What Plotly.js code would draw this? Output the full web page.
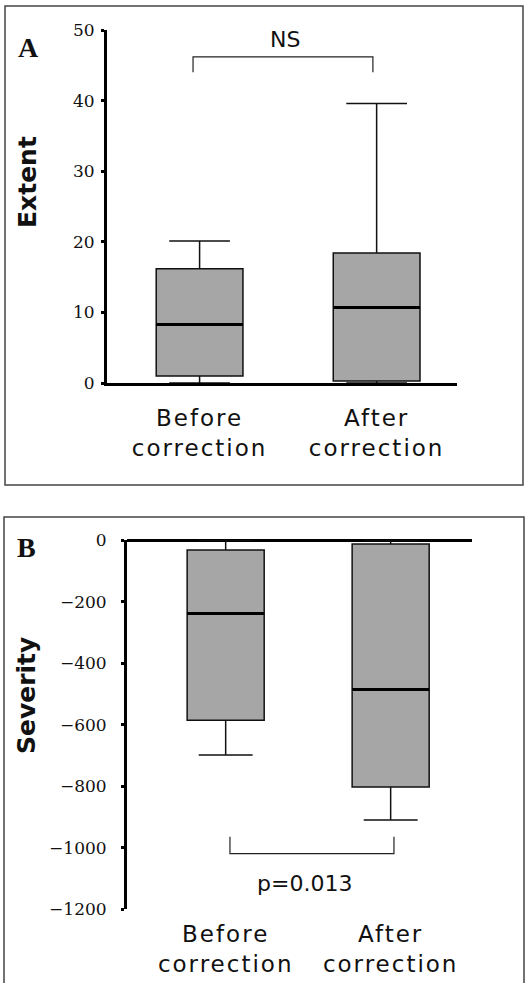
<!DOCTYPE html>
<html>
<head>
<meta charset="utf-8">
<script src="https://cdn.plot.ly/plotly-3.0.1.min.js"></script>
<style>
  html, body { margin: 0; padding: 0; background: #fff; }
  #chart { width: 525px; height: 983px; }
  .xtick text, .x2tick text { letter-spacing: 2px; }
</style>
</head>
<body>
<div id="chart"></div>
<script>
// ---- data ----
const categories = ['Before<br>correction', 'After<br>correction'];

// Panel A: Extent
const extentLower  = [0, 0];
const extentQ1     = [1.0, 0.3];
const extentMedian = [8.3, 10.7];
const extentQ3     = [16.2, 18.4];
const extentUpper  = [20.1, 39.6];
const extentTicks  = [0, 10, 20, 30, 40, 50];

// Panel B: Severity
const severityLower  = [-698, -910];
const severityQ1     = [-585, -802];
const severityMedian = [-238, -485];
const severityQ3     = [-32, -12];
const severityUpper  = [0, 0];
const severityTicks  = [0, -200, -400, -600, -800, -1000, -1200];

// ---- styling ----
const W = 525, H = 983;
const boxFill = '#a6a6a6';
const tickFont = {family: 'DejaVu Serif', size: 17, color: '#111'};
const catFont = {family: 'DejaVu Sans', size: 23, color: '#111'};
const titleFont = {family: 'DejaVu Sans', size: 25, color: '#111', weight: 'bold'};

function boxTrace(xa, ya, lo, q1, med, q3, hi, width) {
  return {
    type: 'box', xaxis: xa, yaxis: ya, x: categories,
    lowerfence: lo, q1: q1, median: med, q3: q3, upperfence: hi,
    width: width, whiskerwidth: 0.7,
    fillcolor: boxFill, line: {color: '#111', width: 1.5},
    hoverinfo: 'skip', showlegend: false
  };
}
function medianTrace(xa, ya, med, width) {
  return {
    type: 'box', xaxis: xa, yaxis: ya, x: categories,
    lowerfence: med, q1: med, median: med, q3: med, upperfence: med,
    width: width, whiskerwidth: 0,
    fillcolor: 'rgba(0,0,0,0)', line: {color: '#000', width: 3},
    hoverinfo: 'skip', showlegend: false
  };
}

const data = [
  boxTrace('x', 'y', extentLower, extentQ1, extentMedian, extentQ3, extentUpper, 0.49),
  medianTrace('x', 'y', extentMedian, 0.49),
  boxTrace('x2', 'y2', severityLower, severityQ1, severityMedian, severityQ3, severityUpper, 0.467),
  medianTrace('x2', 'y2', severityMedian, 0.467)
];

const layout = {
  width: W, height: H,
  margin: {l: 0, r: 0, t: 0, b: 0},
  paper_bgcolor: '#fff', plot_bgcolor: 'rgba(0,0,0,0)',
  showlegend: false,
  boxmode: 'overlay',
  xaxis: {
    domain: [107 / W, 457 / W], anchor: 'y',
    type: 'category', range: [-0.523, 1.454],
    showline: true, linewidth: 3, linecolor: '#000',
    ticks: '', showgrid: false, zeroline: false,
    tickfont: catFont, ticklabelstandoff: 12, fixedrange: true
  },
  yaxis: {
    domain: [1 - 383 / H, 1 - 30 / H], anchor: 'x',
    range: [0, 50], tickvals: extentTicks,
    showline: true, linewidth: 3, linecolor: '#000',
    ticks: 'outside', ticklen: 3, tickwidth: 3, tickcolor: '#000',
    showgrid: false, zeroline: false,
    tickfont: tickFont, ticklabelstandoff: 3, fixedrange: true
  },
  xaxis2: {
    domain: [127 / W, 472 / W], anchor: 'y2',
    type: 'category', range: [-0.598, 1.493],
    showline: false, ticks: '', showgrid: false, zeroline: false,
    tickfont: catFont, ticklabelstandoff: 9, fixedrange: true
  },
  yaxis2: {
    domain: [1 - 909.3 / H, 1 - 540.2 / H], anchor: 'x2',
    range: [-1200, 0], tickvals: severityTicks,
    tickmode: 'array',
    ticktext: severityTicks.map(v => v === 0 ? '0' : '\u2212' + Math.abs(v)),
    showline: true, linewidth: 3, linecolor: '#000',
    ticks: 'outside', ticklen: 3, tickwidth: 3, tickcolor: '#000',
    showgrid: false,
    zeroline: true, zerolinewidth: 3, zerolinecolor: '#000',
    tickfont: tickFont, ticklabelstandoff: 11, fixedrange: true
  },
  shapes: [
    // panel frames
    {type: 'rect', xref: 'paper', yref: 'paper', x0: 5 / W, x1: 523 / W, y0: 1 - 485 / H, y1: 1 - 6 / H,
     line: {color: '#444', width: 1.5}},
    {type: 'rect', xref: 'paper', yref: 'paper', x0: 4 / W, x1: 524 / W, y0: -0.01, y1: 1 - 517 / H,
     line: {color: '#444', width: 1.5}},
    // NS bracket
    {type: 'path', xref: 'x', yref: 'y', path: 'M -0.037,44 L -0.037,46.2 L 0.979,46.2 L 0.979,44',
     line: {color: '#222', width: 1.2}},
    // p bracket
    {type: 'path', xref: 'x2', yref: 'y2', path: 'M 0.026,-964 L 0.026,-1019 L 1.02,-1019 L 1.02,-964',
     line: {color: '#222', width: 1.2}}
  ],
  annotations: [
    {text: 'A', xref: 'paper', yref: 'paper', x: 28 / W, y: 1 - 48 / H, xanchor: 'center', yanchor: 'middle',
     showarrow: false, font: {family: 'Liberation Serif', size: 28, color: '#111', weight: 'bold'}},
    {text: 'B', xref: 'paper', yref: 'paper', x: 26 / W, y: 1 - 547 / H, xanchor: 'center', yanchor: 'middle',
     showarrow: false, font: {family: 'Liberation Serif', size: 28, color: '#111', weight: 'bold'}},
    {text: 'Extent', xref: 'paper', yref: 'paper', x: 27 / W, y: 1 - 182 / H, textangle: -90,
     xanchor: 'center', yanchor: 'middle', showarrow: false, font: titleFont},
    {text: 'Severity', xref: 'paper', yref: 'paper', x: 26 / W, y: 1 - 696 / H, textangle: -90,
     xanchor: 'center', yanchor: 'middle', showarrow: false, font: titleFont},
    {text: 'NS', xref: 'x', yref: 'y', x: 0.48, y: 48.7, showarrow: false,
     xanchor: 'center', yanchor: 'middle', font: {family: 'DejaVu Sans', size: 22, color: '#111'}},
    {text: 'p=0.013', xref: 'x2', yref: 'y2', x: 0.48, y: -1115, showarrow: false,
     xanchor: 'center', yanchor: 'middle', font: {family: 'DejaVu Sans', size: 22, color: '#111'}}
  ]
};

Plotly.newPlot('chart', data, layout, {staticPlot: true, displayModeBar: false});
</script>
</body>
</html>
